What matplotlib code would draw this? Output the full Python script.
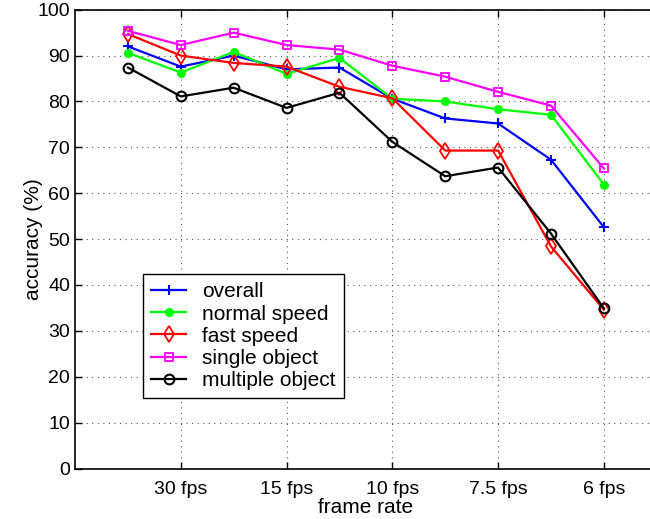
import numpy as np
import matplotlib
matplotlib.use("Agg")
import matplotlib.pyplot as plt

plt.rcParams["font.family"] = ["Liberation Sans", "DejaVu Sans"]

x = [1, 2, 3, 4, 5, 6, 7, 8, 9, 10]
tick_pos = [2, 4, 6, 8, 10]
tick_labels = ["30 fps", "15 fps", "10 fps", "7.5 fps", "6 fps"]

overall = [92.0, 87.6, 90.0, 87.0, 87.4, 80.6, 76.3, 75.2, 67.3, 52.6]
normal_speed = [90.6, 86.3, 90.8, 86.0, 89.5, 80.6, 80.0, 78.3, 77.1, 61.9]
fast_speed = [94.7, 90.0, 88.4, 87.6, 83.2, 80.7, 69.3, 69.3, 48.4, 34.6]
single_object = [95.4, 92.3, 95.0, 92.3, 91.3, 87.8, 85.4, 82.1, 79.1, 65.4]
multiple_object = [87.4, 81.1, 83.0, 78.6, 81.9, 71.2, 63.7, 65.6, 51.2, 34.9]

fig = plt.figure(figsize=(6.5, 5.19), dpi=100)
ax = fig.add_axes([0.1154, 0.0973, 0.895, 0.884])

lw = 1.6
ax.plot(x, overall, color="#0000ff", lw=lw, marker="+", ms=7, mew=1.5, label="overall")
ax.plot(x, normal_speed, color="#00ff00", lw=lw, marker="o", ms=5.5, label="normal speed")
ax.plot(x, fast_speed, color="#ff0000", lw=lw, marker="d", ms=8, mfc="none", mew=1.3, label="fast speed")
ax.plot(x, single_object, color="#ff00ff", lw=lw, marker="s", ms=6, mfc="none", mew=1.3, label="single object")
ax.plot(x, multiple_object, color="black", lw=lw, marker="o", ms=7, mfc="none", mew=1.5, label="multiple object")

ax.set_xlim(0, 11)
ax.set_ylim(0, 100)
ax.set_xticks(tick_pos)
ax.set_xticklabels(tick_labels)
ax.set_yticks(np.arange(0, 101, 10))
ax.tick_params(direction="in", top=True, right=True, labelsize=14, length=5, width=1)
ax.tick_params(axis="x", pad=9)
ax.grid(True, linestyle=(0, (1, 4)), color="#555555", lw=0.8)
for s in ax.spines.values():
    s.set_linewidth(1.2)

ax.set_xlabel("frame rate", fontsize=15, labelpad=0)
ax.set_ylabel("accuracy (%)", fontsize=15)
ax.yaxis.set_label_coords(-0.055, 0.5)

leg = ax.legend(loc="lower left", bbox_to_anchor=(0.117, 0.153), fontsize=15,
                fancybox=False, framealpha=1, edgecolor="black",
                handlelength=1.65, borderpad=0.4, labelspacing=0.15, handletextpad=0.8,
                borderaxespad=0)
leg.get_frame().set_linewidth(1.0)

fig.savefig("out.png", dpi=100)
